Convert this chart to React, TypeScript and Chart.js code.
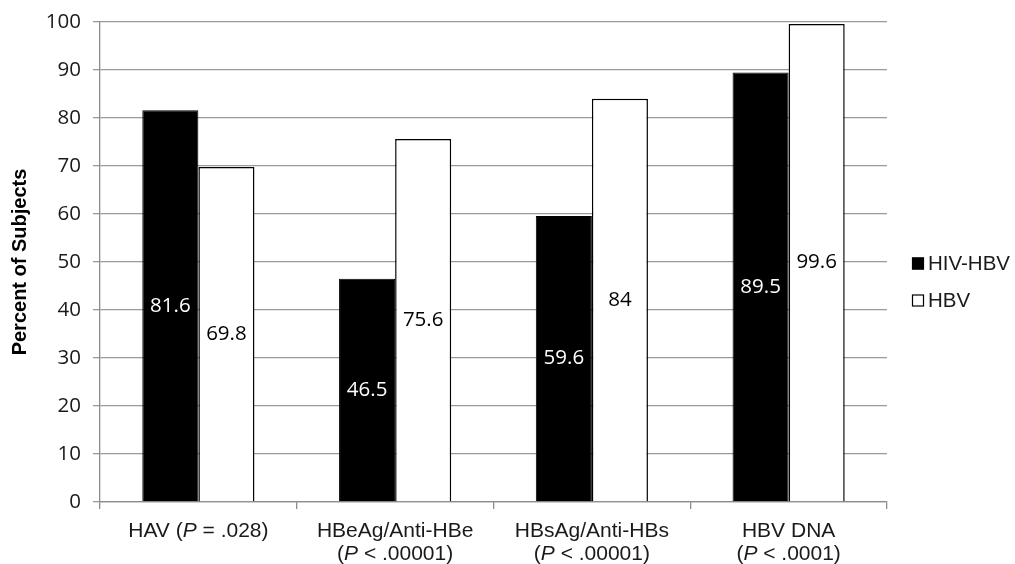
import React, { useEffect, useRef } from "react";
import { Chart, registerables } from "chart.js";

Chart.register(...registerables);

const categories: string[][] = [
  ["HAV (P = .028)"],
  ["HBeAg/Anti-HBe", "(P < .00001)"],
  ["HBsAg/Anti-HBs", "(P < .00001)"],
  ["HBV DNA", "(P < .0001)"],
];
const hivHbvValues = [81.6, 46.5, 59.6, 89.5];
const hbvValues = [69.8, 75.6, 84, 99.6];
const seriesNames = ["HIV-HBV", "HBV"];
const yTicks = [0, 10, 20, 30, 40, 50, 60, 70, 80, 90, 100];

const AXIS_FONT = "Liberation Sans, Arial, sans-serif";
const NUM_FONT = "'Open Sans', 'Noto Sans', sans-serif";

const drawMixed = (ctx: CanvasRenderingContext2D, line: string, cx: number, cy: number, size: number) => {
  const parts = line.split(/(\bP\b)/).filter((p) => p.length > 0);
  const fonts = parts.map((p) => (p === "P" ? `italic ${size}px ${AXIS_FONT}` : `${size}px ${AXIS_FONT}`));
  let total = 0;
  const widths = parts.map((p, i) => {
    ctx.font = fonts[i];
    const w = ctx.measureText(p).width;
    total += w;
    return w;
  });
  let x = cx - total / 2;
  ctx.textAlign = "left";
  ctx.textBaseline = "middle";
  parts.forEach((p, i) => {
    ctx.font = fonts[i];
    ctx.fillText(p, x, cy);
    x += widths[i];
  });
};

const customPlugin = {
  id: "custom",
  afterDatasetsDraw(chart: any) {
    const ctx: CanvasRenderingContext2D = chart.ctx;
    ctx.save();
    // value labels
    chart.data.datasets.forEach((ds: any, di: number) => {
      const meta = chart.getDatasetMeta(di);
      meta.data.forEach((bar: any, i: number) => {
        const v = ds.data[i];
        ctx.font = `20.5px ${NUM_FONT}`;
        ctx.fillStyle = di === 0 ? "#ffffff" : "#000000";
        ctx.textAlign = "center";
        ctx.textBaseline = "middle";
        ctx.fillText(String(v), bar.x, (bar.y + bar.base) / 2);
      });
    });
    // x labels
    const xs = chart.scales.x;
    const area = chart.chartArea;
    ctx.fillStyle = "#1a1a1a";
    categories.forEach((lines, i) => {
      const cx = xs.getPixelForValue(i);
      lines.forEach((ln, li) => {
        drawMixed(ctx, ln, cx, area.bottom + 29 + li * 23, 21);
      });
    });
    // legend
    const lx = area.right + 25;
    const cyMid = chart.height / 2;
    chart.data.datasets.forEach((ds: any, di: number) => {
      const cy = cyMid - 18.5 + di * 37;
      ctx.fillStyle = ds.backgroundColor;
      ctx.fillRect(lx, cy - 6, 12, 12);
      ctx.strokeStyle = "#000";
      ctx.lineWidth = 1.2;
      ctx.strokeRect(lx + 0.5, cy - 5.5, 11, 11);
      ctx.fillStyle = "#1a1a1a";
      ctx.font = `20.5px ${AXIS_FONT}`;
      ctx.textAlign = "left";
      ctx.textBaseline = "middle";
      ctx.fillText(ds.label, lx + 16, cy + 1);
    });
    ctx.restore();
  },
};

export default function App() {
  const ref = useRef<HTMLCanvasElement | null>(null);
  useEffect(() => {
    if (!ref.current) return;
    const chart = new Chart(ref.current, {
      type: "bar",
      data: {
        labels: categories.map((c) => c.join(" ")),
        datasets: [
          {
            label: seriesNames[0],
            data: hivHbvValues,
            backgroundColor: "#000000",
            borderColor: "#000000",
            borderWidth: 1,
            categoryPercentage: 0.57,
            barPercentage: 1,
          },
          {
            label: seriesNames[1],
            data: hbvValues,
            backgroundColor: "#ffffff",
            borderColor: "#000000",
            borderWidth: 1.5,
            categoryPercentage: 0.57,
            barPercentage: 1,
          },
        ],
      },
      options: {
        animation: false,
        responsive: true,
        maintainAspectRatio: false,
        layout: { padding: { top: 22, right: 128, left: 0, bottom: 0 } },
        plugins: { legend: { display: false }, tooltip: { enabled: false } },
        scales: {
          x: {
            offset: true,
            grid: { display: true, drawOnChartArea: false, drawTicks: true, tickLength: 7, color: "#8c8c8c", lineWidth: 1.3, offset: true },
            border: { display: true, color: "#8c8c8c", width: 1.3 },
            ticks: { color: "transparent", maxRotation: 0, autoSkip: false, font: { size: 19, family: AXIS_FONT } },
            afterFit: (s: any) => {
              s.height = 62;
            },
          },
          y: {
            min: 0,
            max: 100,
            afterBuildTicks: (s: any) => {
              s.ticks = yTicks.map((v) => ({ value: v }));
            },
            grid: { color: "#999999", lineWidth: 1.3, tickLength: 7, drawTicks: true },
            border: { display: true, color: "#8c8c8c", width: 1.3 },
            ticks: { color: "#1a1a1a", padding: 12, font: { size: 20.5, family: NUM_FONT } },
            title: {
              display: true,
              text: "Percent of Subjects",
              color: "#000",
              font: { size: 20, weight: "bold", family: AXIS_FONT },
              padding: { top: 8, bottom: 0 },
            },
            afterFit: (s: any) => {
              s.width = 100;
              s.paddingTop = 0;
              s.paddingBottom = 0;
            },
          },
        },
      },
      plugins: [customPlugin],
    });
    return () => chart.destroy();
  }, []);
  return (
    <div style={{ position: "absolute", left: 0, top: 0, width: 1015, height: 564, background: "#fff" }}>
      <canvas ref={ref} />
    </div>
  );
}
